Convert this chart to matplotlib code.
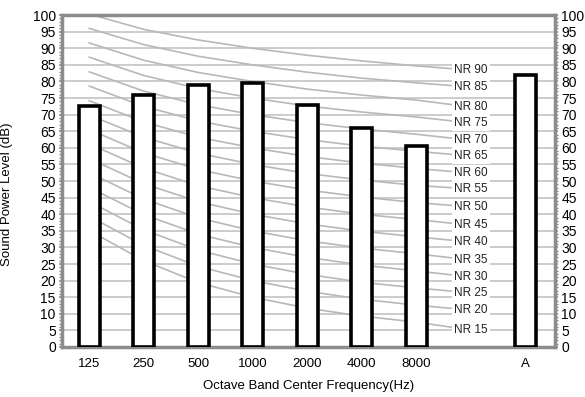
import numpy as np
import matplotlib.pyplot as plt
from matplotlib.ticker import MultipleLocator

plt.rcParams['font.family'] = ['Liberation Sans', 'DejaVu Sans']

# Bars: octave band levels plus overall A-weighted level
categories = ["125", "250", "500", "1000", "2000", "4000", "8000", "", "A"]
band_levels = [72.5, 76.0, 79.0, 79.5, 73.0, 66.0, 60.5]
a_level = 82.0

# NR curves: values at 125..8000 Hz, last point sits under the label
nr_levels = [15, 20, 25, 30, 35, 40, 45, 50, 55, 60, 65, 70, 75, 80, 85, 90]
nr_curves = [
    [35.1, 26.0, 19.4, 15, 11.7, 9.3, 7.5, 5.1],
    [39.4, 30.6, 24.3, 20, 16.8, 14.4, 12.6, 11.1],
    [43.8, 35.3, 29.2, 25, 21.9, 19.5, 17.8, 16.3],
    [48.1, 39.9, 34.0, 30, 27.0, 24.7, 22.9, 21.1],
    [52.5, 44.6, 38.9, 35, 32.0, 29.8, 28.1, 26.2],
    [56.8, 49.2, 43.8, 40, 37.1, 34.9, 33.2, 31.6],
    [61.2, 53.9, 48.6, 45, 42.2, 40.0, 38.4, 36.7],
    [65.5, 58.5, 53.5, 50, 47.3, 45.2, 43.5, 42.2],
    [69.9, 63.2, 58.4, 55, 52.3, 50.3, 48.7, 47.6],
    [74.2, 67.8, 63.2, 60, 57.4, 55.4, 53.8, 52.4],
    [78.6, 72.5, 68.1, 65, 62.5, 60.5, 59.0, 57.5],
    [82.9, 77.1, 73.0, 70, 67.6, 65.7, 64.1, 62.3],
    [87.3, 81.8, 77.9, 75, 72.6, 70.8, 69.3, 67.5],
    [91.6, 86.4, 82.7, 80, 77.7, 75.9, 74.4, 72.3],
    [96.0, 91.1, 87.6, 85, 82.8, 81.0, 79.6, 78.3],
    [100.3, 95.7, 92.5, 90, 87.9, 86.2, 84.7, 83.4],
]

x = np.arange(len(categories))
spine_gray = "#8c8c8c"

fig = plt.figure(figsize=(5.85, 3.97), dpi=100)
ax = fig.add_axes([0.106, 0.126, 0.843, 0.836])

# grid
for yv in range(5, 100, 5):
    ax.axhline(yv, color="#c4c4c4", lw=1.2, zorder=0)

# NR curves + labels
for lvl, vals in zip(nr_levels, nr_curves):
    ax.plot(x[:len(vals)], vals, color="#b8b8b8", lw=1.2, zorder=1)
    ax.text(7, vals[-1], "NR %d" % lvl, ha="center", va="center", fontsize=8.5,
            color="#222222", zorder=3,
            bbox=dict(facecolor="white", edgecolor="none", pad=1.5))

# bars
ax.bar(x[:7], band_levels, width=0.38, facecolor="white", edgecolor="black",
       linewidth=2.6, zorder=4)
ax.bar([8], [a_level], width=0.38, facecolor="white", edgecolor="black",
       linewidth=2.6, zorder=4)

ax.set_xlim(-0.5, 8.55)
ax.set_ylim(0, 100)
ax.set_xticks(x)
ax.set_xticklabels(categories, fontsize=9.5)
ax.tick_params(axis="x", length=0, pad=8)

ax.yaxis.set_major_locator(MultipleLocator(5))
ax.yaxis.set_minor_locator(MultipleLocator(1))
ax.tick_params(axis="y", which="both", left=True, right=True, labelleft=True,
               labelright=True, labelsize=10, color=spine_gray, direction="out")
ax.tick_params(axis="y", which="major", length=2.5, width=1.2, pad=2)
ax.tick_params(axis="y", which="minor", length=2.5, width=1.0)

for s in ax.spines.values():
    s.set_color(spine_gray)
    s.set_linewidth(2.5)

ax.set_ylabel("Sound Power Level (dB)", fontsize=9.5, labelpad=9)
ax.yaxis.set_label_coords(-0.1, 0.46)
ax.set_xlabel("Octave Band Center Frequency(Hz)", fontsize=9.5, labelpad=7)

fig.savefig("out.png", dpi=100)
